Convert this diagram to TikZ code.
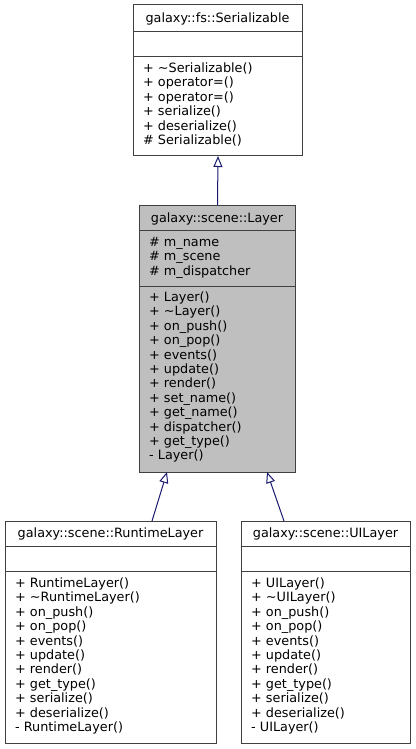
\documentclass[tikz,border=0pt]{standalone}
\usepackage{fontspec}
\setmainfont{DejaVu Sans}
\usetikzlibrary{arrows.meta}
\definecolor{edgeblue}{HTML}{191970}
\definecolor{boxline}{HTML}{404040}
\definecolor{rootfill}{HTML}{BFBFBF}
\tikzset{
  umlbox/.style={draw=boxline, line width=1pt, fill=white, rectangle, inner sep=0pt, anchor=north west},
  sepline/.style={draw=boxline, line width=1pt},
  mem/.style={anchor=base west, inner sep=0pt, font=\fontsize{12.8}{14.4}\selectfont},
  ttl/.style={anchor=base, inner sep=0pt, font=\fontsize{12.8}{14.4}\selectfont},
  inh/.style={draw=edgeblue, line width=1pt, -{Triangle[open, length=11pt, width=9pt, fill=white]}},
}
\newcommand\memlines[4]{%
  \foreach \t [count=\i from 0] in {#4} {
    \node[mem] (#1\i) at (#2, {#3+4.5+14.4*\i}) {\t};
  }%
}
\begin{document}
\begin{tikzpicture}[x=1pt, y=-1pt]
\useasboundingbox (0,0) rectangle (415,749);
% Serializable
\node[umlbox, minimum width=169pt, minimum height=151pt] (ser) at (133,4) {};
\draw[sepline] (ser.west |- 0,32) -- (ser.east |- 0,32);
\draw[sepline] (ser.west |- 0,57) -- (ser.east |- 0,57);
\node[ttl] (sert) at (217.5,{18+4.5}) {galaxy::fs::Serializable};
\memlines{serm}{143}{68}{+ \textasciitilde Serializable(), + operator=(), + operator=(), + serialize(), + deserialize(), \# Serializable()}
% Layer
\node[umlbox, fill=rootfill, minimum width=156pt, minimum height=267pt] (layer) at (139,205) {};
\draw[sepline] (layer.west |- 0,230) -- (layer.east |- 0,230);
\draw[sepline] (layer.west |- 0,286) -- (layer.east |- 0,286);
\node[ttl] (layert) at (217,{217.5+4.5}) {galaxy::scene::Layer};
\memlines{laya}{149}{242}{\# m\_name, \# m\_scene, \# m\_dispatcher}
\memlines{laym}{149}{297}{+ Layer(), + \textasciitilde Layer(), + on\_push(), + on\_pop(), + events(), + update(), + render(), + set\_name(), + get\_name(), + dispatcher(), + get\_type(), - Layer()}
% RuntimeLayer
\node[umlbox, minimum width=211pt, minimum height=222pt] (rt) at (5,521) {};
\draw[sepline] (rt.west |- 0,546) -- (rt.east |- 0,546);
\draw[sepline] (rt.west |- 0,571) -- (rt.east |- 0,571);
\node[ttl] (rtt) at (110.5,{533+4.5}) {galaxy::scene::RuntimeLayer};
\memlines{rtm}{15}{583}{+ RuntimeLayer(), + \textasciitilde RuntimeLayer(), + on\_push(), + on\_pop(), + events(), + update(), + render(), + get\_type(), + serialize(), + deserialize(), - RuntimeLayer()}
% UILayer
\node[umlbox, minimum width=169pt, minimum height=222pt] (ui) at (241,521) {};
\draw[sepline] (ui.west |- 0,546) -- (ui.east |- 0,546);
\draw[sepline] (ui.west |- 0,571) -- (ui.east |- 0,571);
\node[ttl] (uit) at (325.5,{533+4.5}) {galaxy::scene::UILayer};
\memlines{uim}{251}{583}{+ UILayer(), + \textasciitilde UILayer(), + on\_push(), + on\_pop(), + events(), + update(), + render(), + get\_type(), + serialize(), + deserialize(), - UILayer()}
% inheritance edges
\coordinate (rtTop) at (152,521);
\coordinate (layBL) at (167,472);
\coordinate (uiTop) at (284,521);
\coordinate (layBR) at (267,472);
\draw[inh] (layer.north) -- (ser.south);
\draw[inh] (rtTop) -- (layBL);
\draw[inh] (uiTop) -- (layBR);
\end{tikzpicture}
\end{document}
